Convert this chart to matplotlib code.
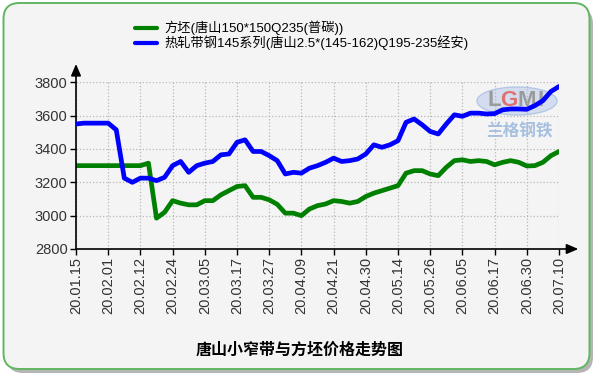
import numpy as np
import matplotlib.pyplot as plt
from matplotlib.patches import FancyBboxPatch, Ellipse

# tick dates (every 4 points)
dates = ['20.01.15', '20.02.01', '20.02.12', '20.02.24', '20.03.05', '20.03.17',
         '20.03.27', '20.04.09', '20.04.21', '20.04.30', '20.05.14', '20.05.26',
         '20.06.05', '20.06.17', '20.06.30', '20.07.10']

# 方坯 price
billet = [3300, 3300, 3300, 3300, 3300, 3300, 3300, 3300, 3300, 3315,
          2985, 3020, 3090, 3075, 3065, 3065, 3090, 3090, 3125, 3150,
          3175, 3180, 3110, 3110, 3095, 3068, 3015, 3015, 3000, 3040,
          3060, 3070, 3090, 3085, 3075, 3085, 3115, 3135, 3150, 3165,
          3180, 3255, 3270, 3270, 3250, 3240, 3290, 3330, 3335, 3325,
          3330, 3325, 3305, 3320, 3330, 3320, 3298, 3300, 3320, 3360,
          3385]

# 热轧带钢 price
strip = [3550, 3555, 3555, 3555, 3555, 3515, 3225, 3200, 3225, 3225,
         3210, 3230, 3300, 3325, 3260, 3300, 3315, 3325, 3365, 3370,
         3440, 3455, 3385, 3385, 3360, 3330, 3250, 3260, 3255, 3285,
         3300, 3320, 3345, 3325, 3330, 3340, 3370, 3425, 3410, 3425,
         3450, 3560, 3580, 3545, 3505, 3490, 3550, 3605, 3596, 3615,
         3615, 3610, 3612, 3635, 3640, 3640, 3638, 3660, 3690, 3745,
         3775]

yticks = [2800, 3000, 3200, 3400, 3600, 3800]

label1 = '方坯(唐山150*150Q235(普碳))'
label2 = '热轧带钢145系列(唐山2.5*(145-162)Q195-235经安)'
title = '唐山小窄带与方坯价格走势图'

plt.rcParams['font.family'] = ['Liberation Sans', 'Noto Sans CJK SC']

W, H = 596, 376
fig = plt.figure(figsize=(W / 100, H / 100), dpi=100)
fig.patch.set_facecolor('white')

# rounded panel with shadow
shadow = FancyBboxPatch((0.07, 0.03), 5.86, 3.65,
                        boxstyle='round,pad=0,rounding_size=0.16',
                        transform=fig.dpi_scale_trans, fc='#b5b5b5', ec='none',
                        zorder=-3)
panel = FancyBboxPatch((0.035, 0.07), 5.86, 3.66,
                       boxstyle='round,pad=0,rounding_size=0.16',
                       transform=fig.dpi_scale_trans, fc='#f4f4f4',
                       ec='#62b562', lw=1.4, zorder=-2)
fig.patches.extend([shadow, panel])

# watermark (under the axes)
fig.patches.append(Ellipse((517 / W, 1 - 101 / H), 80 / W, 28 / H,
                           transform=fig.transFigure, fc='#cbd8ee', ec='#a9bfe3',
                           alpha=0.8, zorder=-1))
for ch, cx, col in [('L', 494, '#9a9a9a'), ('G', 509, '#e07070'),
                    ('M', 527, '#9a9a9a'), ('I', 541, '#9a9a9a')]:
    fig.text(cx / W, 1 - 101 / H, ch, color=col, fontsize=16,
             fontweight='bold', ha='center', va='center', zorder=-0.5)
fig.text(519 / W, 1 - 131 / H, '兰格钢铁', color='#a8c0e0', fontsize=12,
         fontweight='bold', ha='center', va='center', zorder=-0.5,
         family=['Noto Sans CJK SC'])

x0, x1, yb, yt = 76, 559, 249, 82.3
ax = fig.add_axes([x0 / W, 1 - yb / H, (x1 - x0) / W, (yb - yt) / H])
ax.set_facecolor('none')

x = np.arange(len(strip))
ax.plot(x, billet, color='#008000', lw=3.4, solid_joinstyle='round',
        solid_capstyle='round', label=label1, zorder=3)
ax.plot(x, strip, color='#0000ff', lw=3.4, solid_joinstyle='round',
        solid_capstyle='round', label=label2, zorder=4)

ax.set_xlim(0, len(strip) - 1)
ax.set_ylim(2800, 3800)
ax.set_xticks(np.arange(0, len(strip), 4))
ax.set_xticklabels(dates, rotation=90, fontsize=10.5, color='#333333')
ax.set_yticks(yticks)
ax.set_yticklabels([str(v) for v in yticks], fontsize=10.5, color='#333333')
ax.tick_params(axis='both', direction='out', length=4, width=1, color='black', pad=2)
ax.grid(True, linestyle=':', color='#b8b8b8', lw=0.9)
for s in ax.spines.values():
    s.set_visible(False)

# axes with arrows
ax.annotate('', xy=(0, 1.11), xytext=(0, 0), xycoords='axes fraction',
            arrowprops=dict(arrowstyle='-|>,head_length=0.7,head_width=0.3',
                            color='black', lw=1.2, shrinkA=0, shrinkB=0))
ax.annotate('', xy=(1.04, 0), xytext=(0, 0), xycoords='axes fraction',
            arrowprops=dict(arrowstyle='-|>,head_length=0.7,head_width=0.3',
                            color='black', lw=1.2, shrinkA=0, shrinkB=0))

leg = fig.legend(loc='upper left', bbox_to_anchor=(135 / W, 1 - 21 / H), frameon=False,
                 fontsize=9.5, handlelength=1.7, handletextpad=0.5, labelspacing=0.0,
                 borderaxespad=0, borderpad=0)
for h in leg.legend_handles:
    h.set_linewidth(3)

fig.text(300 / W, 1 - 350 / H, title, fontsize=11.5, fontweight='bold',
         ha='center', va='center', family=['Noto Sans CJK SC'])

fig.savefig('out.png', dpi=100)
